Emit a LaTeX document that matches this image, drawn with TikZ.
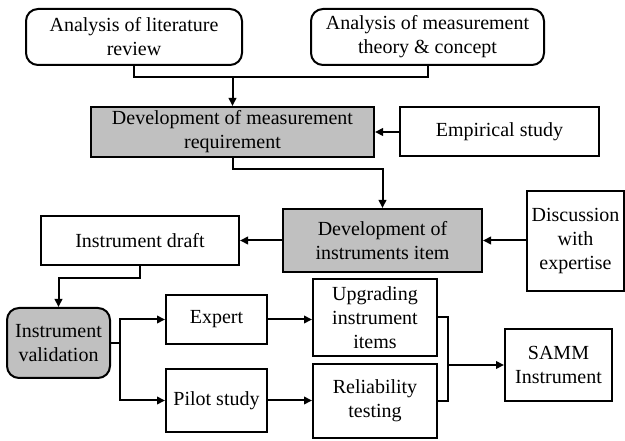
\documentclass[tikz,border=0pt]{standalone}
\usepackage{fontspec}
\setmainfont{Liberation Serif}
\newfontfamily\boxfont{Liberation Serif}
\usetikzlibrary{arrows.meta}
\definecolor{boxgray}{RGB}{192,192,192}
\begin{document}
\begin{tikzpicture}[x=1pt,y=-1pt,
  line width=2pt,
  box/.style={draw=black, line width=2pt, fill=white, inner sep=0pt, align=center,
    font=\boxfont\fontsize{20}{24}\selectfont},
  rbox/.style={box, rounded corners=12pt},
  gbox/.style={box, fill=boxgray},
  arr/.style={-{Triangle[length=8pt,width=7.5pt]}},
  ]
\useasboundingbox (0,0) rectangle (625,441);

\node[rbox, minimum width=216pt, minimum height=56pt] (lit) at (134,37) {Analysis of literature\\review};
\node[rbox, minimum width=233pt, minimum height=56pt] (theory) at (427.5,37) {Analysis of measurement\\theory \& concept};
\node[gbox, minimum width=283pt, minimum height=50pt] (req) at (232.5,132) {Development of measurement\\requirement};
\node[box, minimum width=199pt, minimum height=49pt] (emp) at (499.5,132) {Empirical study};
\node[gbox, minimum width=199pt, minimum height=63pt] (item) at (382.5,240.5) {Development of\\instruments item};
\node[box, minimum width=97pt, minimum height=100pt] (disc) at (575.5,241) {Discussion\\with\\expertise};
\node[box, minimum width=198pt, minimum height=49pt] (draft) at (140,240.5) {Instrument draft};
\node[rbox, fill=boxgray, minimum width=103pt, minimum height=70pt] (valid) at (58.5,343) {Instrument\\validation};
\node[box, minimum width=101pt, minimum height=49pt] (expert) at (216.5,319.5) {Expert};
\node[box, minimum width=101pt, minimum height=63pt] (pilot) at (216.5,400.5) {Pilot study};
\node[box, minimum width=124pt, minimum height=77pt] (upg) at (375,317.5) {Upgrading\\instrument\\items};
\node[box, minimum width=124pt, minimum height=74pt] (rel) at (375,401) {Reliability\\testing};
\node[box, minimum width=107pt, minimum height=72pt] (samm) at (558.5,365) {SAMM\\Instrument};

% top merge
\coordinate (j1) at (232.5,77);
\draw (lit.south) |- (j1) -| (theory.south);
\draw[arr] (j1) -- (req.north);

\draw[arr] (emp.west) -- (emp.west -| req.east);
\draw[arr] (req.south) -- ++(0,11) -| (item.north);
\draw[arr] (disc.west |- item.east) -- (item.east);
\draw[arr] (item.west) -- (item.west -| draft.east);
\draw[arr] (draft.south) -- ++(0,12) -| (valid.north);

% validation branch
\coordinate (b) at (120,343);
\draw (valid.east) -- (b);
\draw[arr] (b) |- (expert.west);
\draw[arr] (b) |- (pilot.west);

\draw[arr] (expert.east) -- (expert.east -| upg.west);
\draw[arr] (pilot.east) -- (pilot.east -| rel.west);

% merge to SAMM
\coordinate (m) at (448,365);
\draw (upg.east) -| (m) |- (rel.east);
\draw[arr] (m) -- (samm.west);
\end{tikzpicture}
\end{document}
